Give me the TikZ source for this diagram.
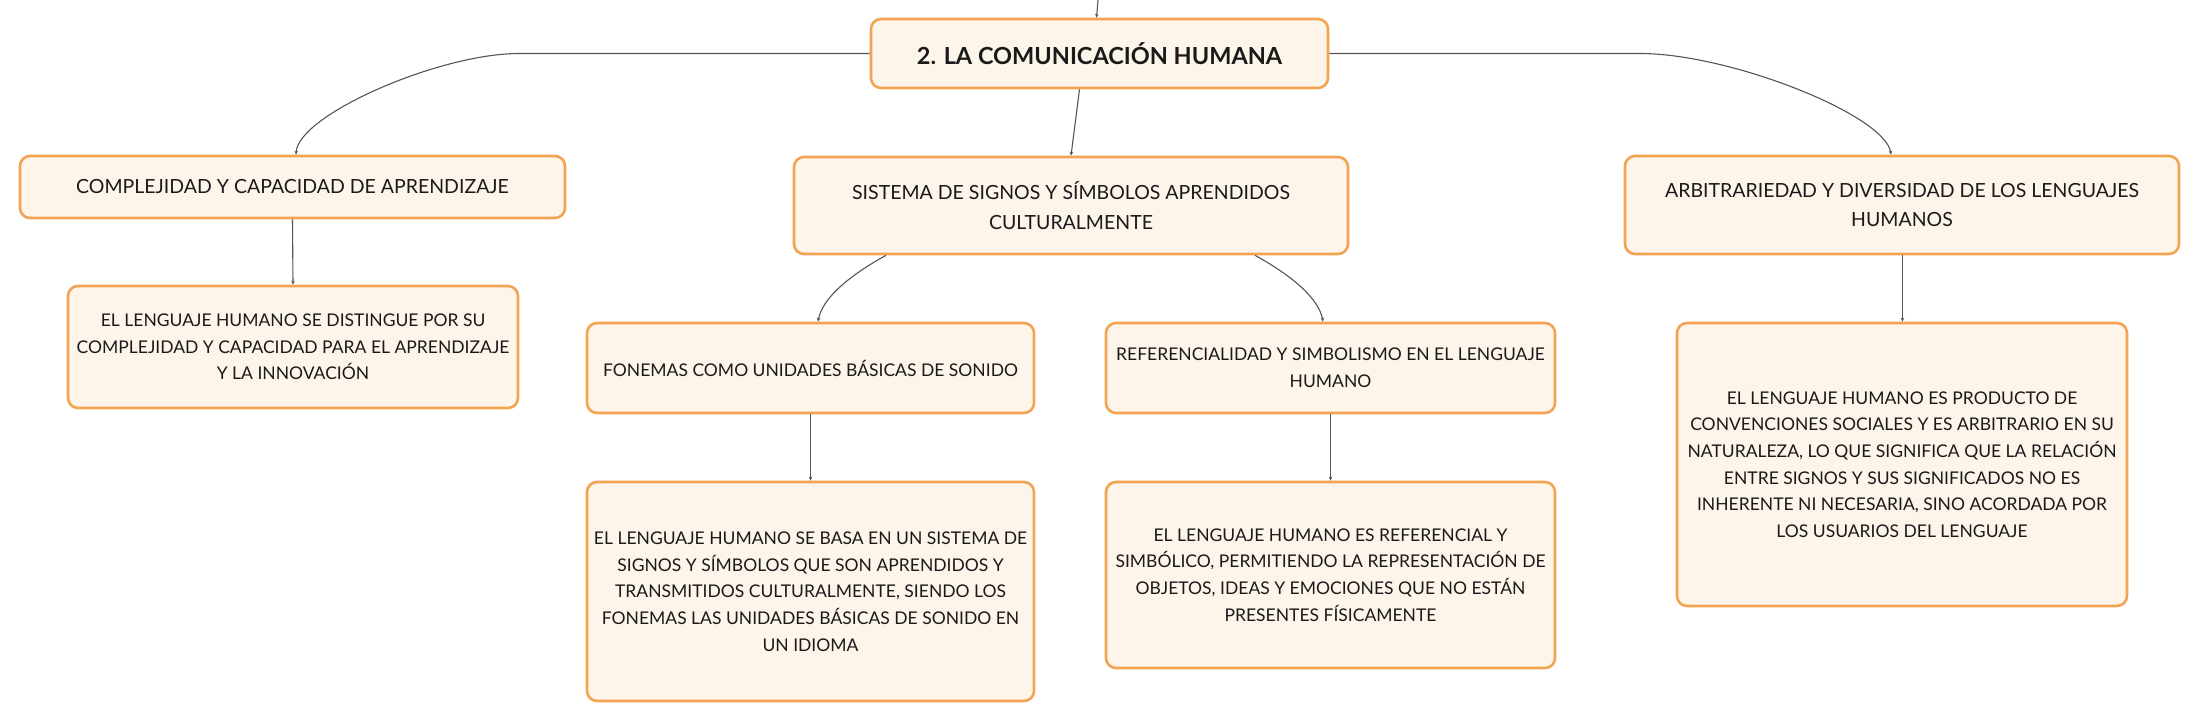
\documentclass[tikz,border=0pt]{standalone}
\usepackage{fontspec}
\setmainfont{Lato}
\usetikzlibrary{arrows.meta}
\definecolor{boxborder}{HTML}{F3A452}
\definecolor{boxfill}{HTML}{FDF4EA}
\definecolor{linkcol}{HTML}{555555}
\definecolor{txt}{HTML}{1A1A1A}
\begin{document}
\begin{tikzpicture}[x=1pt,y=-1pt,
  box/.style={draw=boxborder, fill=boxfill, line width=2.6pt, rounded corners=10pt,
    align=center, inner sep=0pt, text=txt, anchor=center},
  rootbox/.style={box, font=\fontsize{23.5}{28}\selectfont\bfseries},
  lvlone/.style={box, font=\fontsize{19.5}{29.3}\selectfont},
  lvltwo/.style={box, font=\fontsize{17.5}{26.7}\selectfont},
  link/.style={draw=linkcol, line width=1.1pt, -{Stealth[length=4pt,width=3.5pt]}}
]
\useasboundingbox (0,0) rectangle (2200,721);
\fill[white] (0,0) rectangle (2200,721);

\node[rootbox, minimum width=457pt, minimum height=69pt] (root) at (1099.5,53.5) {2. LA COMUNICACIÓN HUMANA};

\node[lvlone, minimum width=545pt, minimum height=62pt] (c1) at (292.5,187) {COMPLEJIDAD Y CAPACIDAD DE APRENDIZAJE};
\node[lvlone, minimum width=554pt, minimum height=97pt] (c2) at (1071,205.5) {SISTEMA DE SIGNOS Y SÍMBOLOS APRENDIDOS\\CULTURALMENTE};
\node[lvlone, minimum width=554pt, minimum height=98pt] (c3) at (1902,205) {ARBITRARIEDAD Y DIVERSIDAD DE LOS LENGUAJES\\HUMANOS};

\node[lvltwo, minimum width=450pt, minimum height=122pt] (l1) at (293,347) {EL LENGUAJE HUMANO SE DISTINGUE POR SU\\COMPLEJIDAD Y CAPACIDAD PARA EL APRENDIZAJE\\Y LA INNOVACIÓN};

\node[lvltwo, minimum width=447pt, minimum height=90pt] (f) at (810.5,368) {FONEMAS COMO UNIDADES BÁSICAS DE SONIDO};
\node[lvltwo, minimum width=449pt, minimum height=90pt] (r) at (1330.5,368) {REFERENCIALIDAD Y SIMBOLISMO EN EL LENGUAJE\\HUMANO};

\node[lvltwo, minimum width=447pt, minimum height=219pt] (fl) at (810.5,591.5) {EL LENGUAJE HUMANO SE BASA EN UN SISTEMA DE\\SIGNOS Y SÍMBOLOS QUE SON APRENDIDOS Y\\TRANSMITIDOS CULTURALMENTE, SIENDO LOS\\FONEMAS LAS UNIDADES BÁSICAS DE SONIDO EN\\UN IDIOMA};
\node[lvltwo, minimum width=449pt, minimum height=186pt] (rl) at (1330.5,575) {EL LENGUAJE HUMANO ES REFERENCIAL Y\\SIMBÓLICO, PERMITIENDO LA REPRESENTACIÓN DE\\OBJETOS, IDEAS Y EMOCIONES QUE NO ESTÁN\\PRESENTES FÍSICAMENTE};
\node[lvltwo, minimum width=450pt, minimum height=283pt] (al) at (1902,464.5) {EL LENGUAJE HUMANO ES PRODUCTO DE\\CONVENCIONES SOCIALES Y ES ARBITRARIO EN SU\\NATURALEZA, LO QUE SIGNIFICA QUE LA RELACIÓN\\ENTRE SIGNOS Y SUS SIGNIFICADOS NO ES\\INHERENTE NI NECESARIA, SINO ACORDADA POR\\LOS USUARIOS DEL LENGUAJE};

\coordinate (top) at (1098,0);
\coordinate (lbend) at (519,53.5);
\coordinate (rbend) at (1640,53.5);

\draw[link] (top) -- ([xshift=-3pt]root.north);
\draw[link] (root.west) -- (lbend) .. controls (439,53.5) and (298,115) .. ([xshift=3.5pt]c1.north);
\draw[link] (root.east) -- (rbend) .. controls (1730,53.5) and (1885,115) .. ([xshift=-11pt]c3.north);
\draw[link] ([xshift=-20pt]root.south) -- (c2.north);
\draw[link] (c1.south) -- (l1.north);
\draw[link] ([xshift=-185pt]c2.south) .. controls (845,278) and (822,300) .. ([xshift=7.5pt]f.north);
\draw[link] ([xshift=184pt]c2.south) .. controls (1296,278) and (1319,300) .. ([xshift=-7.5pt]r.north);
\draw[link] (f.south) -- (fl.north);
\draw[link] (r.south) -- (rl.north);
\draw[link] ([xshift=0.4pt]c3.south) -- ([xshift=0.4pt]al.north);
\end{tikzpicture}
\end{document}
